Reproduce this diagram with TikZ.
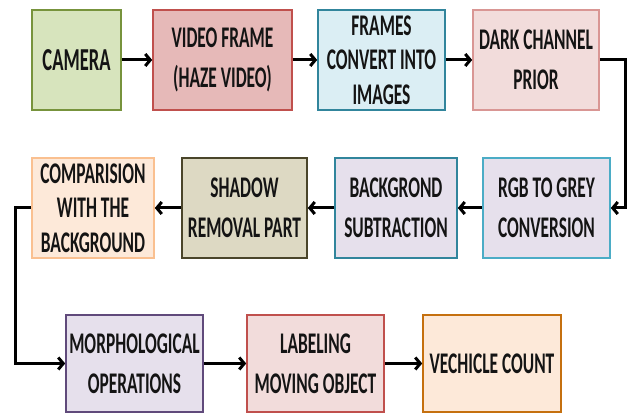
\documentclass[tikz,border=0pt]{standalone}
\usepackage{fontspec}
\setmainfont[FakeStretch=0.58]{Carlito}
\usetikzlibrary{positioning,arrows.meta}

\definecolor{camfill}{HTML}{D7E4BD}
\definecolor{camline}{HTML}{77933C}
\definecolor{redfill}{HTML}{E6B9B8}
\definecolor{redline}{HTML}{C0504D}
\definecolor{bluefill}{HTML}{DBEEF4}
\definecolor{blueline}{HTML}{31859C}
\definecolor{pinkfill}{HTML}{F2DCDB}
\definecolor{pinkline}{HTML}{D99694}
\definecolor{orgfill}{HTML}{FDE9D9}
\definecolor{orgline}{HTML}{FAC090}
\definecolor{olvfill}{HTML}{DDD9C3}
\definecolor{olvline}{HTML}{4A452A}
\definecolor{lavfill}{HTML}{E6E0EC}
\definecolor{lavline}{HTML}{604A7B}
\definecolor{tealline}{HTML}{4BACC6}
\definecolor{brnline}{HTML}{C5700F}

\newcommand{\stagenode}[4]{\node [#3] (#1) at (#2) {#4}}

\begin{document}
\begin{tikzpicture}[x=1pt, y=1pt,
  box/.style={draw, line width=1.6pt, align=center, minimum height=100pt,
    inner sep=2pt, text=black!92, font=\fontsize{30}{40}\selectfont\bfseries},
  tall/.style={font=\fontsize{30}{34.5}\selectfont\bfseries},
  flow/.style={-{Straight Barb[length=5pt, width=12pt]}, line width=3pt},
]
\useasboundingbox (0,0) rectangle (632,414);

% first row
\stagenode{CAM}{76.5,354}{box, fill=camfill, draw=camline, minimum width=89pt, font=\fontsize{32}{40}\selectfont\bfseries}{CAMERA};
\stagenode{VID}{222.5,354}{box, fill=redfill, draw=redline, minimum width=139pt}{VIDEO FRAME\\(HAZE VIDEO)};
\stagenode{FRM}{381.5,354}{box, tall, fill=bluefill, draw=blueline, minimum width=127pt}{FRAMES\\CONVERT INTO\\IMAGES};
\stagenode{DCP}{536,354}{box, fill=pinkfill, draw=pinkline, minimum width=126pt}{DARK CHANNEL\\PRIOR};

% second row, right to left
\stagenode{RGB}{546.5,206}{box, fill=lavfill, draw=tealline, minimum width=127pt}{RGB TO GREY\\CONVERSION};
\stagenode{SUB}{396,206}{box, fill=lavfill, draw=blueline, minimum width=122pt}{BACKGROND\\SUBTRACTION};
\stagenode{SHD}{244.5,206}{box, fill=olvfill, draw=olvline, minimum width=125pt}{SHADOW\\REMOVAL PART};
\stagenode{CMP}{93,206}{box, tall, fill=orgfill, draw=orgline, minimum width=122pt}{COMPARISION\\WITH THE\\BACKGROUND};

% third row
\stagenode{MOR}{134.5,50.5}{box, fill=lavfill, draw=lavline, minimum width=137pt, minimum height=97pt}{MORPHOLOGICAL\\OPERATIONS};
\stagenode{LAB}{315.5,50.5}{box, fill=pinkfill, draw=redline, minimum width=137pt, minimum height=97pt}{LABELING\\MOVING OBJECT};
\stagenode{VEH}{492,50.5}{box, fill=orgfill, draw=brnline, minimum width=138pt, minimum height=97pt}{VECHICLE COUNT};

\draw[flow] (CAM) -- (VID);
\draw[flow] (VID) -- (FRM);
\draw[flow] (FRM) -- (DCP);
\draw[flow] (DCP.east) -- ++(26,0) |- (RGB.east);
\draw[flow] (RGB) -- (SUB);
\draw[flow] (SUB) -- (SHD);
\draw[flow] (SHD) -- (CMP);
\draw[flow] (CMP.west) -- ++(-16,0) |- (MOR.west);
\draw[flow] (MOR) -- (LAB);
\draw[flow] (LAB) -- (VEH);

\end{tikzpicture}
\end{document}
